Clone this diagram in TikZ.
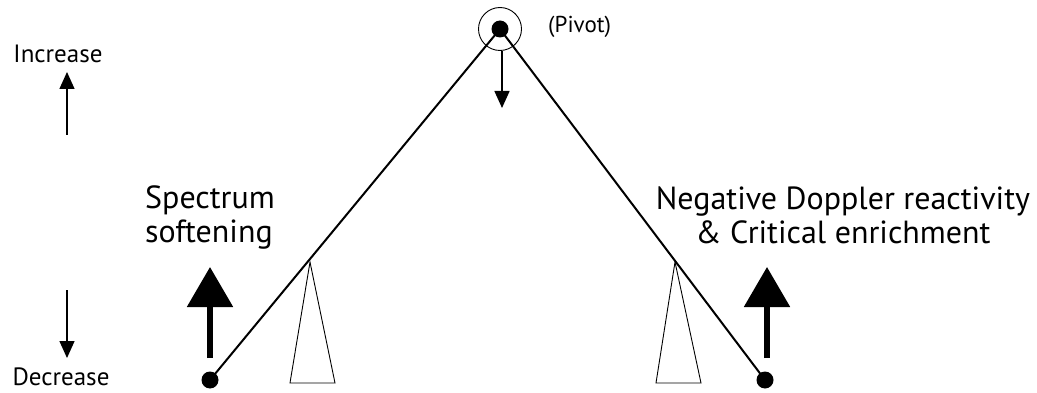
\documentclass[tikz,border=0pt]{standalone}
\usepackage{fontspec}
\setmainfont{PT Sans}
\usetikzlibrary{arrows.meta}
\tikzset{
  enddot/.style={circle, fill=black, minimum size=17pt, inner sep=0pt},
  lever/.style={line width=2pt},
  fulcrum/.style={draw, line width=0.9pt},
  thinarrow/.style={line width=1.5pt, -{Triangle[length=17pt, width=15pt]}},
  bigarrow/.style={line width=5.5pt, -{Triangle[length=40pt, width=45pt]}},
  label/.style={inner sep=0pt, align=center},
  scalefont/.style={font=\fontsize{25}{30}\selectfont},
  bigfont/.style={font=\fontsize{32}{34}\selectfont}
}
\begin{document}
\begin{tikzpicture}[x=1pt, y=-1pt]
  \useasboundingbox (0,0) rectangle (1037,393);
  % 1. pivot, ring and the two ends of the lever
  \node[enddot] (pivot) at (500,29) {};
  \node[circle, draw, line width=0.9pt, minimum size=43pt, inner sep=0pt] (ring) at (500,29) {};
  \node[label, font=\fontsize{23}{26}\selectfont, anchor=west] (pivotlab) at (548,27) {(Pivot)};
  \node[enddot] (leftend) at (210,380) {};
  \node[enddot] (rightend) at (765,380) {};
  \draw[lever] (pivot.center) -- (leftend.center);
  \draw[lever] (pivot.center) -- (rightend.center);

  % 2. the two fulcrum triangles (apex on the lever)
  \coordinate (lapex) at (310,262);
  \coordinate (rapex) at (675,262);
  \draw[fulcrum] (lapex) -- (290,383) -- (335,383) -- cycle;
  \draw[fulcrum] (rapex) -- (656,383) -- (701,383) -- cycle;

  % 3. arrows
  \coordinate (pivdown) at (502,108);
  \draw[thinarrow] (ring.south -| pivdown) -- (pivdown);
  \coordinate (lbot) at (210,358);
  \coordinate (ltop) at (210,267);
  \draw[bigarrow] (lbot) -- (ltop);
  \coordinate (rbot) at (767,358);
  \coordinate (rtop) at (767,267);
  \draw[bigarrow] (rbot) -- (rtop);

  % 4. scale on the left
  \node[label, scalefont, anchor=base] (incr) at (58,63) {Increase};
  \node[label, scalefont, anchor=base] (decr) at (61,385) {Decrease};
  \coordinate (uptail) at (67,135);
  \coordinate (uptip) at (67,72);
  \coordinate (downtail) at (67,290);
  \coordinate (downtip) at (67,358);
  \draw[thinarrow] (uptail) -- (uptip);
  \draw[thinarrow] (downtail) -- (downtip);

  % 5. effect labels
  \node[label, bigfont, align=left, anchor=north west] (soft) at (145,186) {Spectrum\\softening};
  \node[label, bigfont, anchor=north] (dopp) at (843,187) {Negative Doppler reactivity\\\& Critical enrichment};
\end{tikzpicture}
\end{document}
